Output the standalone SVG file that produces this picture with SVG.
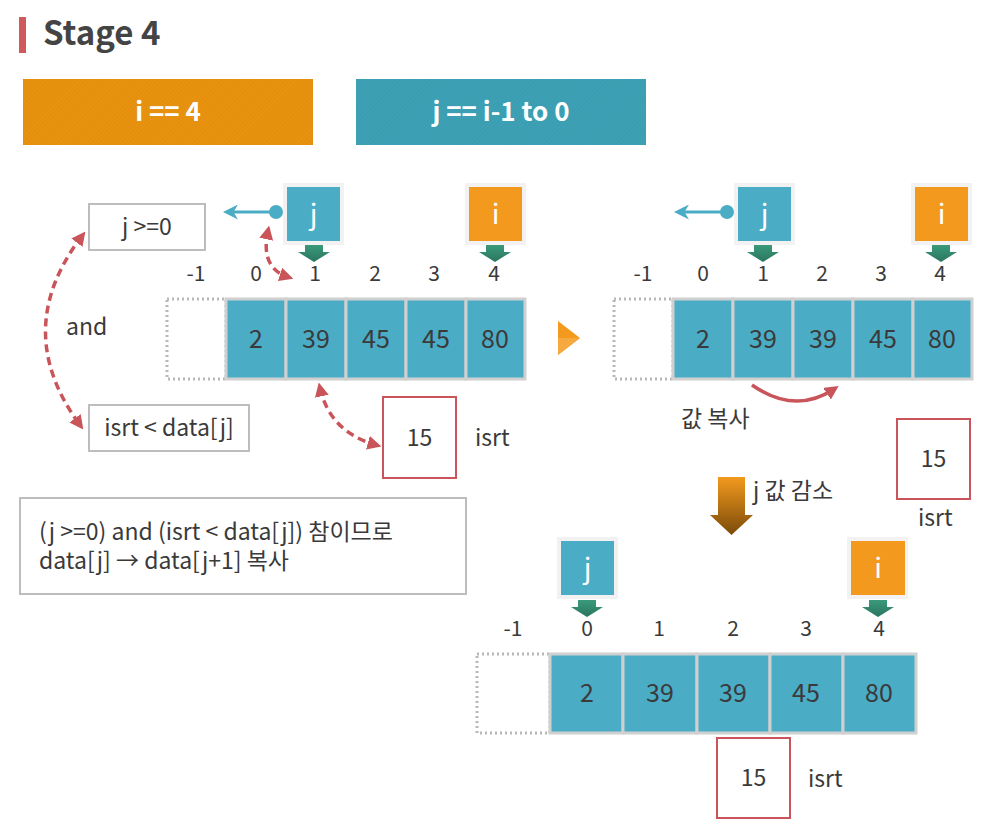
<svg xmlns="http://www.w3.org/2000/svg" width="989" height="826" viewBox="0 0 989 826">
<defs>
<pattern id="hatchO" width="3" height="3" patternUnits="userSpaceOnUse" patternTransform="rotate(45)">
<rect width="3" height="3" fill="#E8920F"/><line x1="0" y1="0" x2="0" y2="3" stroke="#DD8A0C" stroke-width="1"/>
</pattern>
<pattern id="hatchT" width="3" height="3" patternUnits="userSpaceOnUse" patternTransform="rotate(45)">
<rect width="3" height="3" fill="#3DA0B4"/><line x1="0" y1="0" x2="0" y2="3" stroke="#3698AB" stroke-width="1"/>
</pattern>
<linearGradient id="gGreen" x1="0" y1="0" x2="0" y2="1"><stop offset="0" stop-color="#3A9A7A"/><stop offset="1" stop-color="#2A7560"/></linearGradient>
<linearGradient id="gBrown" x1="0" y1="0" x2="0" y2="1"><stop offset="0" stop-color="#F39A1E"/><stop offset="1" stop-color="#7A4A08"/></linearGradient>
<marker id="redHead" viewBox="0 0 10 10" refX="6" refY="5" markerWidth="4" markerHeight="4" orient="auto-start-reverse" markerUnits="strokeWidth">
<path d="M0,0 L10,5 L0,10 Z" fill="#C9555A"/>
</marker>
<marker id="blueHead" viewBox="0 0 10 10" refX="4" refY="5" markerWidth="5" markerHeight="5" orient="auto" markerUnits="strokeWidth">
<path d="M0,0 L10,5 L0,10 L3,5 Z" fill="#4BACC6"/>
</marker>
<g id="downG"><path d="M-9,0 H9 V7 H16 L0,17 L-16,7 H-9 Z" fill="url(#gGreen)"/></g>
</defs>
<style>
text{font-family:"Noto Sans CJK KR","Noto Sans",sans-serif;fill:#3a3a3a}
.title{font-size:33px;font-weight:bold;fill:#444}
.ban{font-size:26px;font-weight:bold;fill:#fff;text-anchor:middle}
.idx{font-size:21px;text-anchor:middle}
.val{font-size:25px;text-anchor:middle}
.lbl{font-size:23px}
.ptr{font-size:28px;fill:#fff;text-anchor:middle}
.cell{fill:#4BACC6;stroke:#D0D0D0;stroke-width:3}
.empty{fill:#fff;stroke:#B8B8B8;stroke-width:3;stroke-dasharray:2 3}
.gbox{fill:#fff;stroke:#BDBDBD;stroke-width:2}
.rbox{fill:#fff;stroke:#C9555A;stroke-width:2}
.halo{fill:#F2F2F2}
.jb{fill:#4BACC6}
.ib{fill:#F39A1E}
.dash{fill:none;stroke:#C9555A;stroke-width:3.5;stroke-dasharray:8 5;marker-start:url(#redHead);marker-end:url(#redHead)}
.solid{fill:none;stroke:#C9555A;stroke-width:3.5;marker-end:url(#redHead)}
.blue{stroke:#4BACC6;stroke-width:3;marker-end:url(#blueHead)}
</style>

<g id="title">
<rect x="19" y="17" width="7" height="36" fill="#D0595C"/>
<text class="title" x="43" y="45">Stage 4</text>
</g>
<g id="banner-i"><rect x="23" y="79" width="290" height="66" fill="url(#hatchO)"/><text class="ban" x="168" y="121">i == 4</text></g>
<g id="banner-j"><rect x="356" y="79" width="290" height="66" fill="url(#hatchT)"/><text class="ban" x="501" y="121">j == i-1 to 0</text></g>

<!-- Left panel -->
<g id="cond-j"><rect class="gbox" x="89" y="204" width="116" height="46"/><text class="lbl" x="147" y="235" text-anchor="middle">j &gt;=0</text></g>
<g id="and"><text class="lbl" x="66" y="335">and</text></g>
<g id="cond-isrt"><rect class="gbox" x="89" y="405" width="160" height="46"/><text class="lbl" x="169" y="436" text-anchor="middle">isrt &lt; data[j]</text></g>

<g id="ptr-j1">
<rect class="halo" x="283" y="183" width="61" height="62"/>
<rect class="jb" x="287" y="187" width="53" height="54"/>
<text class="ptr" x="313.5" y="224">j</text>
<use href="#downG" x="314" y="245"/>
</g>
<g id="ptr-i1">
<rect class="halo" x="465" y="183" width="61" height="62"/>
<rect class="ib" x="469" y="187" width="53" height="54"/>
<text class="ptr" x="495.5" y="224">i</text>
<use href="#downG" x="495" y="245"/>
</g>
<g id="idx1">
<text class="idx" x="196" y="281">-1</text><text class="idx" x="256" y="281">0</text><text class="idx" x="315" y="281">1</text><text class="idx" x="375" y="281">2</text><text class="idx" x="434" y="281">3</text><text class="idx" x="494" y="281">4</text>
</g>
<g id="array1">
<rect class="empty" x="167" y="299" width="59" height="80"/>
<rect class="cell" x="226" y="299" width="60" height="80"/>
<rect class="cell" x="286" y="299" width="60" height="80"/>
<rect class="cell" x="346" y="299" width="60" height="80"/>
<rect class="cell" x="406" y="299" width="60" height="80"/>
<rect class="cell" x="466" y="299" width="59" height="80"/>
<text class="val" x="256" y="348">2</text><text class="val" x="316" y="348">39</text><text class="val" x="376" y="348">45</text><text class="val" x="436" y="348">45</text><text class="val" x="495" y="348">80</text>
</g>
<g id="isrt1"><rect class="rbox" x="383" y="397" width="73" height="81"/><text class="lbl" x="419.5" y="446" text-anchor="middle">15</text><text class="lbl" x="475" y="446">isrt</text></g>

<g id="note"><rect class="gbox" x="20" y="498" width="446" height="96"/>
<text class="lbl" x="39" y="540">(j &gt;=0) and (isrt &lt; data[j]) 참이므로</text>
<text class="lbl" x="39" y="569">data[j] → data[j+1] 복사</text></g>

<g id="play"><path d="M558,321 L580,338 L558,355 Z" fill="#F39A1E"/><path d="M558,338 L580,338 L558,355 Z" fill="#F5A93F"/></g>

<!-- Right panel -->
<g id="ptr-j2">
<rect class="halo" x="734" y="183" width="61" height="62"/>
<rect class="jb" x="738" y="187" width="53" height="54"/>
<text class="ptr" x="764.5" y="224">j</text>
<use href="#downG" x="763" y="245"/>
</g>
<g id="ptr-i2">
<rect class="halo" x="911" y="183" width="61" height="62"/>
<rect class="ib" x="915" y="187" width="53" height="54"/>
<text class="ptr" x="941.5" y="224">i</text>
<use href="#downG" x="941" y="245"/>
</g>
<g id="idx2">
<text class="idx" x="643" y="281">-1</text><text class="idx" x="703" y="281">0</text><text class="idx" x="763" y="281">1</text><text class="idx" x="822" y="281">2</text><text class="idx" x="881" y="281">3</text><text class="idx" x="940" y="281">4</text>
</g>
<g id="array2">
<rect class="empty" x="614" y="299" width="59" height="80"/>
<rect class="cell" x="673" y="299" width="60" height="80"/>
<rect class="cell" x="733" y="299" width="60" height="80"/>
<rect class="cell" x="793" y="299" width="60" height="80"/>
<rect class="cell" x="853" y="299" width="60" height="80"/>
<rect class="cell" x="913" y="299" width="59" height="80"/>
<text class="val" x="703" y="348">2</text><text class="val" x="763" y="348">39</text><text class="val" x="823" y="348">39</text><text class="val" x="883" y="348">45</text><text class="val" x="942" y="348">80</text>
</g>
<g id="copy-label"><text class="lbl" x="681" y="427">값 복사</text></g>
<g id="isrt2"><rect class="rbox" x="897" y="419" width="73" height="80"/><text class="lbl" x="933.5" y="467" text-anchor="middle">15</text><text class="lbl" x="918" y="526">isrt</text></g>
<g id="dec"><path d="M718,477 H745 V515 H753 L731.5,535 L710,515 H718 Z" fill="url(#gBrown)"/><text class="lbl" x="753" y="499">j 값 감소</text></g>

<!-- Bottom panel -->
<g id="ptr-j3">
<rect class="halo" x="557" y="537" width="61" height="62"/>
<rect class="jb" x="561" y="541" width="53" height="54"/>
<text class="ptr" x="587.5" y="578">j</text>
<use href="#downG" x="587" y="600"/>
</g>
<g id="ptr-i3">
<rect class="halo" x="847" y="537" width="61" height="62"/>
<rect class="ib" x="851" y="541" width="54" height="54"/>
<text class="ptr" x="878" y="578">i</text>
<use href="#downG" x="878" y="600"/>
</g>
<g id="idx3">
<text class="idx" x="513" y="636">-1</text><text class="idx" x="587" y="636">0</text><text class="idx" x="659" y="636">1</text><text class="idx" x="733" y="636">2</text><text class="idx" x="806" y="636">3</text><text class="idx" x="879" y="636">4</text>
</g>
<g id="array3">
<rect class="empty" x="477" y="654" width="73" height="79"/>
<rect class="cell" x="550" y="654" width="73" height="79"/>
<rect class="cell" x="623" y="654" width="74" height="79"/>
<rect class="cell" x="697" y="654" width="73" height="79"/>
<rect class="cell" x="770" y="654" width="73" height="79"/>
<rect class="cell" x="843" y="654" width="73" height="79"/>
<text class="val" x="587" y="702">2</text><text class="val" x="660" y="702">39</text><text class="val" x="733" y="702">39</text><text class="val" x="806" y="702">45</text><text class="val" x="879" y="702">80</text>
</g>
<g id="isrt3"><rect class="rbox" x="717" y="738" width="73" height="80"/><text class="lbl" x="753.5" y="786" text-anchor="middle">15</text><text class="lbl" x="808" y="787">isrt</text></g>

<g id="connectors">
<line class="blue" x1="276" y1="212" x2="232" y2="212"/><circle cx="276" cy="212" r="7" fill="#4BACC6"/>
<line class="blue" x1="727" y1="212" x2="683" y2="212"/><circle cx="727" cy="212" r="7" fill="#4BACC6"/>
<path class="dash" d="M82,236 Q10,330 80,425"/>
<path class="dash" d="M268,231 Q260,268 288,277"/>
<path class="dash" d="M320,388 Q330,432 376,445"/>
<path class="solid" d="M752,385 Q795,415 834,389"/>
</g>
</svg>
